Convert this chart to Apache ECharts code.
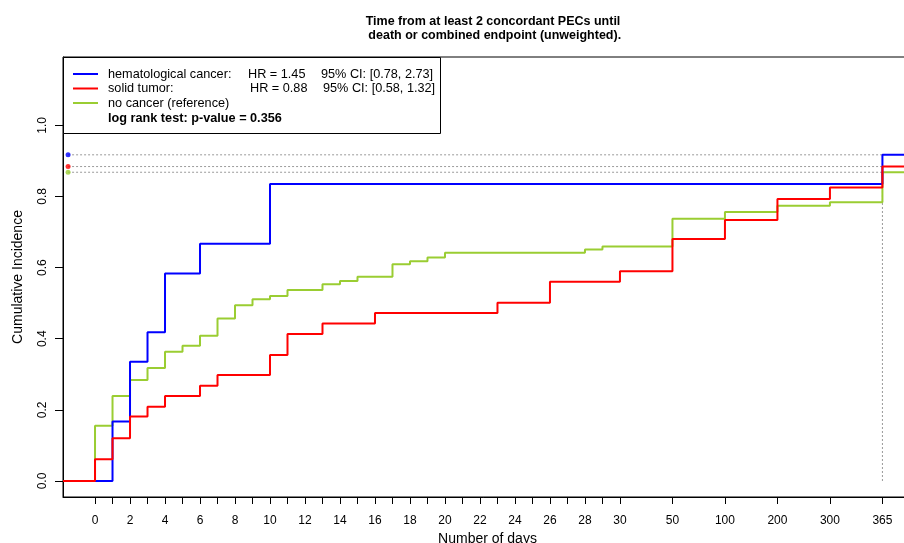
<!DOCTYPE html>
<html>
<head>
<meta charset="utf-8">
<script src="https://cdn.jsdelivr.net/npm/echarts@6/dist/echarts.min.js"></script>
<style>
html,body{margin:0;padding:0;background:#fff;}
#chart{width:904px;height:543px;}
</style>
</head>
<body>
<div id="chart"></div>
<script>
// x axis is compressed after day 30
var tickDays = [0,1,2,3,4,5,6,7,8,9,10,11,12,13,14,15,16,17,18,19,20,21,22,23,24,25,26,27,28,29,30,50,100,200,300,365];
var labelDays = [0,2,4,6,8,10,12,14,16,18,20,22,24,26,28,30,50,100,200,300,365];
var anchorDays = [30,50,100,200,300,365];
var yTicks = [0,0.2,0.4,0.6,0.8,1.0];

// cumulative incidence steps (day of jump, value after jump)
var hemaDays = [1,2,3,4,6,10,365];
var hemaCI   = [0.167,0.335,0.418,0.583,0.667,0.835,0.917];
var solidDays = [0,1,2,3,4,6,7,10,11,13,16,23,26,30,50,100,200,300,365];
var solidCI   = [0.061,0.120,0.181,0.209,0.239,0.268,0.298,0.354,0.413,0.443,0.472,0.501,0.560,0.590,0.680,0.734,0.793,0.825,0.884];
var noneDays = [0,1,2,3,4,5,6,7,8,9,10,11,13,14,15,17,18,19,20,28,29,50,100,200,300,365];
var noneCI   = [0.155,0.239,0.284,0.318,0.363,0.380,0.408,0.457,0.494,0.511,0.520,0.537,0.553,0.562,0.574,0.609,0.618,0.628,0.642,0.651,0.659,0.737,0.756,0.774,0.784,0.868];

var BLUE = '#0000ff', RED = '#ff0000', GREEN = '#9acd32', GREY = '#9a9a9a';
var FONT = '"Liberation Sans", Arial, sans-serif';
var xMin = -1.83, xMax = 46.69, dotX = -1.54;

function dayPos(d){
  if( d <= 30 ){
    return d;
  }
  for( var i = 1 ; i < anchorDays.length ; i++ ){
    if( d <= anchorDays[i] ){
      var a = anchorDays[i-1], b = anchorDays[i];
      return 30 + 3*(i-1) + 3*(d-a)/(b-a);
    }
  }
  return 30 + 3*(anchorDays.length-1);
}

function dayLabel(v){
  for( var i = 0 ; i < tickDays.length ; i++ ){
    if( Math.abs(dayPos(tickDays[i]) - v) < 1e-6 ){
      return String(tickDays[i]);
    }
  }
  return '';
}

function stepData(days, ci){
  var out = [[xMin, 0]];
  for( var i = 0 ; i < days.length ; i++ ){
    out.push([dayPos(days[i]), ci[i]]);
  }
  out.push([xMax, ci[ci.length-1]]);
  return out;
}

function stepSeries(name, days, ci, color){
  return {
    name: name, type: 'line', step: 'end', showSymbol: false,
    data: stepData(days, ci),
    lineStyle: {color: color, width: 2}, z: 5
  };
}

function guideSeries(ci, color){
  var last = ci[ci.length-1];
  return [{
    type: 'line', showSymbol: false, silent: true,
    data: [[dotX, last], [dayPos(365), last]],
    lineStyle: {color: GREY, width: 1, type: [2,2]}, z: 2
  },{
    type: 'scatter', symbol: 'circle', symbolSize: 5, silent: true,
    data: [[dotX, last]],
    itemStyle: {color: color}, z: 6
  }];
}

var series = [];
series = series.concat(guideSeries(hemaCI, BLUE), guideSeries(solidCI, RED), guideSeries(noneCI, GREEN));
series.push({
  type: 'line', showSymbol: false, silent: true,
  data: [[dayPos(365), 0], [dayPos(365), hemaCI[hemaCI.length-1]]],
  lineStyle: {color: GREY, width: 1, type: [2,2]}, z: 2
});
series.push(stepSeries('no cancer', noneDays, noneCI, GREEN));
series.push(stepSeries('hematological cancer', hemaDays, hemaCI, BLUE));
series.push(stepSeries('solid tumor', solidDays, solidCI, RED));

var txt = function(x, y, s, bold){
  return {type: 'text', x: x, y: y, z: 21, style: {
    text: s, fill: '#000', verticalAlign: 'middle',
    font: (bold ? 'bold ' : '') + '12.7px ' + FONT
  }};
};
var seg = function(y, color){
  return {type: 'line', z: 21, shape: {x1: 73, y1: y, x2: 98, y2: y}, style: {stroke: color, lineWidth: 2}};
};

var option = {
  animation: false,
  backgroundColor: '#fff',
  title: {
    text: 'Time from at least 2 concordant PECs until\n death or combined endpoint (unweighted).',
    left: 488, top: 10, textAlign: 'center',
    textStyle: {fontFamily: FONT, fontSize: 12.5, fontWeight: 'bold', color: '#000', lineHeight: 13.5}
  },
  grid: {left: 63, top: 57, width: 849, height: 440, show: true, borderColor: '#000', borderWidth: 1,
    containLabel: false, outerBoundsMode: 'none'},
  xAxis: {
    type: 'value', min: xMin, max: xMax,
    name: 'Number of days', nameLocation: 'middle', nameGap: 35,
    nameTextStyle: {fontFamily: FONT, fontSize: 14, color: '#000'},
    axisLine: {show: true, onZero: false, lineStyle: {color: '#000'}},
    axisTick: {show: true, length: 7, customValues: tickDays.map(dayPos), lineStyle: {color: '#000'}},
    axisLabel: {customValues: labelDays.map(dayPos), formatter: dayLabel, margin: 18,
      fontFamily: FONT, fontSize: 12, color: '#000'},
    splitLine: {show: false}
  },
  yAxis: {
    type: 'value', min: -0.045, max: 1.192,
    name: 'Cumulative Incidence', nameLocation: 'middle', nameGap: 38,
    nameTextStyle: {fontFamily: FONT, fontSize: 14, color: '#000'},
    axisLine: {show: true, onZero: false, lineStyle: {color: '#000'}},
    axisTick: {show: true, length: 8, customValues: yTicks, lineStyle: {color: '#000'}},
    axisLabel: {customValues: yTicks, rotate: 90, margin: 14,
      formatter: function(v){ return v.toFixed(1); },
      fontFamily: FONT, fontSize: 12, color: '#000'},
    splitLine: {show: false}
  },
  graphic: [
    {type: 'rect', z: 20, shape: {x: 63.5, y: 57.5, width: 377, height: 76}, style: {fill: '#fff', stroke: '#000', lineWidth: 1}},
    seg(74, BLUE), seg(88.5, RED), seg(103, GREEN),
    txt(108, 74, 'hematological cancer:'), txt(248, 74, 'HR = 1.45'), txt(321, 74, '95% CI: [0.78, 2.73]'),
    txt(108, 88.5, 'solid tumor:'), txt(250, 88.5, 'HR = 0.88'), txt(323, 88.5, '95% CI: [0.58, 1.32]'),
    txt(108, 103, 'no cancer (reference)'),
    txt(108, 118, 'log rank test: p-value = 0.356', true)
  ],
  series: series
};

var chart = echarts.init(document.getElementById('chart'));
chart.setOption(option);
</script>
</body>
</html>
